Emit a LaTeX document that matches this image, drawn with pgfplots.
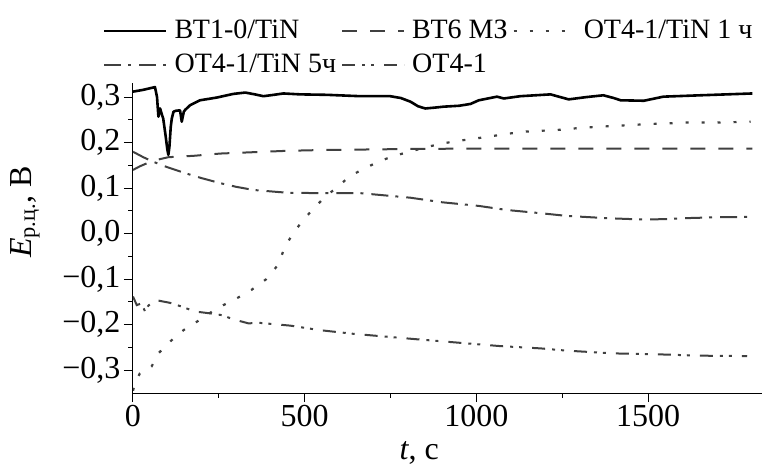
\documentclass[border=0pt]{standalone}
\usepackage{fontspec}
\setmainfont{Liberation Serif}
\newfontfamily\serf{Liberation Serif}
\usepackage{pgfplots}
\pgfplotsset{compat=1.18}
\definecolor{ln}{HTML}{404040}
\begin{document}
\begin{tikzpicture}
\begin{axis}[
  scale only axis,
  width=629bp, height=310bp,
  xmin=0, xmax=1832, ymin=-0.35, ymax=0.331,
  axis x line*=bottom, axis y line*=left,
  axis line style={line width=1bp,-},
  tick style={line width=1bp,black},
  tick align=outside,
  major tick length=9bp, minor tick length=4.5bp,
  xtick={0,500,1000,1500}, minor x tick num=1,
  ytick={-0.3,-0.2,-0.1,0,0.1,0.2,0.3}, minor y tick num=1,
  yticklabels={{−0,3},{−0,2},{−0,1},{0,0},{0,1},{0,2},{0,3}},
  xticklabels={0,500,1000,1500},
  tick label style={font=\serf\fontsize{32bp}{36bp}\selectfont},
  label style={font=\serf\fontsize{32bp}{36bp}\selectfont},
  xlabel={{\itshape t}, с},
  ylabel={{\itshape E}\textsubscript{р.ц.}, В},
  xlabel style={at={(axis description cs:0.455,0)}, yshift=-60bp, anchor=center},
  ylabel style={at={(axis description cs:-0.172,0.584)}, anchor=center},
  legend columns=3,
  legend style={draw=none, fill=none, inner sep=0pt,
    at={(axis description cs:-0.048,1.21)}, anchor=north west,
    font=\serf\fontsize{28bp}{32bp}\selectfont,
    nodes={inner xsep=3bp, inner ysep=0bp, text height=20bp, text depth=6bp, anchor=west},
    row sep=8bp,
    /tikz/every even column/.append style={column sep=2bp}},
  legend cell align=left,
  legend image code/.code={\draw[#1] (0bp,0bp) -- (62bp,0bp); \path (66bp,0bp);},
]
\addplot[black, line width=2.6bp, line join=round] coordinates {
(0,0.312) (30,0.316) (64,0.322) (70,0.30) (74,0.257) (79,0.275) (84,0.262) (88,0.253)
(95,0.215) (100,0.185) (103,0.173) (106,0.19) (110,0.235) (113,0.253) (118,0.268)
(125,0.27) (137,0.271) (142,0.246) (148,0.268) (152,0.272) (166,0.282) (195,0.293)
(244,0.299) (292,0.307) (327,0.310) (355,0.306) (380,0.302) (410,0.305) (438,0.308)
(487,0.306) (565,0.305) (662,0.302) (749,0.302) (780,0.298) (808,0.290) (830,0.280)
(851,0.275) (880,0.277) (905,0.279) (950,0.281) (983,0.285) (1007,0.293) (1060,0.301)
(1080,0.297) (1128,0.302) (1216,0.306) (1240,0.301) (1269,0.295) (1320,0.300)
(1370,0.304) (1400,0.298) (1420,0.293) (1488,0.292) (1545,0.301) (1653,0.304) (1804,0.308)
};
\addlegendentry{ВТ1-0/TiN}
\addplot[ln, line width=2bp, dash pattern=on 15bp off 13bp] coordinates {
(0,0.140) (20,0.148) (57,0.160) (103,0.168) (176,0.171) (254,0.176) (351,0.179)
(448,0.182) (565,0.184) (691,0.185) (800,0.186) (1000,0.187) (1200,0.187)
(1400,0.187) (1600,0.187) (1804,0.187)
};
\addlegendentry{ВТ6 МЗ}
\addplot[ln, line width=2.2bp, dash pattern=on 3bp off 13bp] coordinates {
(0,-0.345) (5,-0.330) (20,-0.307) (54,-0.292) (74,-0.263) (108,-0.237) (147,-0.212)
(183,-0.195) (222,-0.175) (263,-0.157) (307,-0.140) (346,-0.123) (388,-0.100)
(422,-0.069) (440,-0.034) (464,-0.001) (492,0.026) (524,0.054) (560,0.081)
(599,0.105) (633,0.127) (671,0.142) (720,0.160) (766,0.172) (810,0.181) (859,0.191)
(900,0.198) (948,0.204) (997,0.209) (1043,0.214) (1087,0.219) (1138,0.224)
(1187,0.226) (1239,0.228) (1313,0.233) (1361,0.235) (1408,0.237) (1459,0.239)
(1507,0.241) (1556,0.242) (1604,0.244) (1702,0.244) (1799,0.246)
};
\addlegendentry{ОТ4-1/TiN 1 ч}
\addplot[ln, line width=2bp, dash pattern=on 17bp off 7bp on 3bp off 8bp] coordinates {
(0,0.180) (30,0.168) (59,0.158) (100,0.146) (156,0.132) (200,0.122) (254,0.111)
(300,0.103) (351,0.096) (448,0.090) (545,0.089) (662,0.089) (706,0.086) (808,0.079)
(900,0.069) (1007,0.061) (1089,0.052) (1187,0.045) (1264,0.039) (1381,0.034)
(1488,0.031) (1550,0.032) (1604,0.034) (1700,0.036) (1804,0.037)
};
\addlegendentry{ОТ4-1/TiN 5ч}
\addplot[ln, line width=2bp, dash pattern=on 13bp off 7bp on 3bp off 6bp on 3bp off 10bp] coordinates {
(0,-0.138) (11,-0.157) (25,-0.153) (35,-0.171) (45,-0.158) (59,-0.149) (74,-0.147)
(108,-0.152) (137,-0.159) (181,-0.171) (224,-0.175) (259,-0.179) (292,-0.188)
(336,-0.197) (370,-0.196) (458,-0.202) (545,-0.212) (642,-0.220) (827,-0.232)
(1070,-0.247) (1187,-0.252) (1264,-0.257) (1400,-0.263) (1527,-0.265)
(1653,-0.268) (1789,-0.269)
};
\addlegendentry{ОТ4-1}
\end{axis}
\pgfresetboundingbox
\path[use as bounding box] (-133bp,-73bp) rectangle (629bp,393bp);
\end{tikzpicture}
\end{document}
